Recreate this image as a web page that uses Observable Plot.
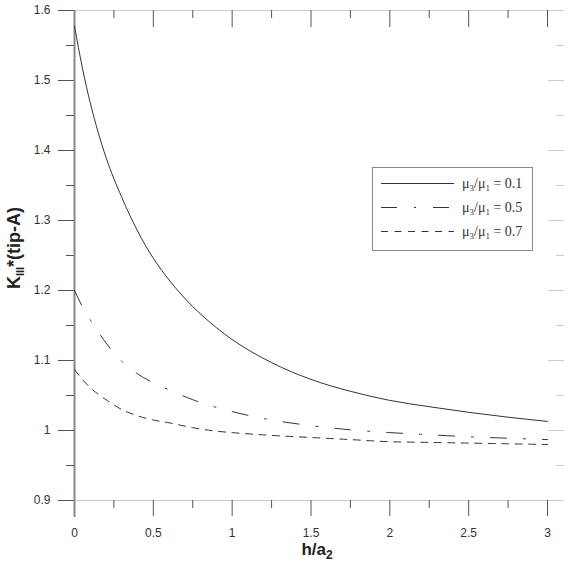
<!DOCTYPE html>
<html><head><meta charset="utf-8">
<script src="https://cdn.jsdelivr.net/npm/d3@7"></script>
<script src="https://cdn.jsdelivr.net/npm/@observablehq/plot@0.6"></script>
<style>
body{margin:0;background:#fff;}
#wrap{position:relative;width:570px;height:563px;}
#legend{position:absolute;left:0;top:0;pointer-events:none;}
</style></head><body><div id="wrap"></div>
<script>
// ---- data ----
const hA = [0,0.05,0.1,0.15,0.2,0.3,0.4,0.5,0.6,0.75,0.9,1,1.25,1.5,1.75,2,2.25,2.5,2.75,3];
const k01 = [1.578,1.518,1.468,1.426,1.390,1.333,1.285,1.246,1.215,1.177,1.147,1.130,1.097,1.073,1.056,1.043,1.034,1.026,1.019,1.013];
const k05 = [1.200,1.177,1.158,1.141,1.125,1.099,1.081,1.068,1.058,1.044,1.033,1.027,1.015,1.007,1.001,0.997,0.994,0.991,0.989,0.987];
const k07 = [1.087,1.073,1.061,1.052,1.044,1.030,1.021,1.015,1.011,1.004,0.999,0.997,0.993,0.990,0.987,0.984,0.983,0.982,0.981,0.980];
const seriesRatio = ["0.1","0.5","0.7"];
const xTicks = [0,0.5,1,1.5,2,2.5,3];
const xMinor = [0.25,0.75,1.25,1.75,2.25,2.75];
const yTicks = [0.9,1,1.1,1.2,1.3,1.4,1.5,1.6];
const yMinor = [0.95,1.05,1.15,1.25,1.35,1.45,1.55];

const dashes = [null, "16,17,2,17", "7,6.5"];
const seriesVals = [k01, k05, k07];
const rows = [];
seriesVals.forEach((vals, s) => hA.forEach((h, i) => rows.push({s, h, k: vals[i]})));

const ink = "#333";
const tickInk = "#555";
const chart = Plot.plot({
  width: 570, height: 563,
  marginLeft: 74, marginRight: 23, marginTop: 10, marginBottom: 63,
  x: {domain: [0, 3]},
  y: {domain: [0.9, 1.6]},
  style: {fontFamily: '"Liberation Sans", Arial, sans-serif', fontSize: "12px", color: ink, background: "#fff"},
  marks: [
    Plot.ruleY([1.6], {stroke: "#ccc", insetRight: -16}),
    Plot.ruleY([0.9], {stroke: "#ccc"}),
    Plot.tickX(xTicks, {x: d => d, stroke: tickInk, insetBottom: 473}),
    Plot.tickX(xMinor, {x: d => d, stroke: tickInk, insetBottom: 482}),
    Plot.axisY(yTicks, {anchor: "right", tickSize: 16, tickFormat: () => "", label: null, stroke: "#ccc"}),
    Plot.axisY(yMinor, {anchor: "right", tickSize: 8, dx: 8, tickFormat: () => "", label: null, stroke: "#ccc"}),
    Plot.axisY(yTicks, {anchor: "left", tickSize: 16, tickPadding: 8, tickFormat: d => String(d), label: null, stroke: tickInk, fill: ink}),
    Plot.axisY(yMinor, {anchor: "left", tickSize: 8, tickFormat: () => "", label: null, stroke: tickInk}),
    Plot.axisX(xTicks, {anchor: "bottom", tickSize: 16, tickPadding: 12, tickFormat: d => String(d), label: null, stroke: tickInk, fill: ink}),
    Plot.axisX(xMinor, {anchor: "bottom", tickSize: 8, tickFormat: () => "", label: null, stroke: tickInk}),
    Plot.ruleX([0], {stroke: "#888", strokeWidth: 2, insetBottom: -17}),
    ...[0,1,2].map(s => Plot.line(rows.filter(r => r.s === s), {
      x: "h", y: "k", curve: "monotone-x", stroke: "#333", strokeWidth: 1,
      strokeDasharray: dashes[s]
    }))
  ]
});
const wrap = document.getElementById("wrap");
wrap.appendChild(chart);

const svg = d3.select(chart);
const sans = '"Liberation Sans", Arial, sans-serif';
// axis titles
const xt = svg.append("text").attr("x", 317).attr("y", 555).attr("text-anchor", "middle")
  .style("font-family", sans).style("font-weight", "bold").style("font-size", "17px").style("fill", "#222");
xt.append("tspan").text("h/a");
xt.append("tspan").attr("dy", 4).style("font-size", "12px").text("2");

const yt = svg.append("text").attr("transform", "translate(20,248) rotate(-90)").attr("text-anchor", "middle")
  .style("font-family", sans).style("font-weight", "bold").style("font-size", "18px").style("fill", "#222");
yt.append("tspan").text("K");
yt.append("tspan").attr("dy", 4).style("font-size", "11px").text("III");
yt.append("tspan").attr("dy", -4).text("*(tip-A)");

// legend (separate overlay svg)
const lg = d3.select(wrap).append("svg").attr("id", "legend").attr("width", 570).attr("height", 563);
lg.append("rect").attr("x", 372.5).attr("y", 167.5).attr("width", 160).attr("height", 83)
  .attr("fill", "#fff").attr("stroke", "#888");
const rowY = [183.5, 207.5, 231.5];
const serif = '"Liberation Serif", "Times New Roman", serif';
seriesRatio.forEach((r, i) => {
  lg.append("line").attr("x1", 381).attr("x2", 454).attr("y1", rowY[i]).attr("y2", rowY[i])
    .attr("stroke", "#333").attr("stroke-dasharray", dashes[i]);
  const t = lg.append("text").attr("x", 462).attr("y", rowY[i] + 4.5)
    .style("font-family", serif).style("font-size", "14px").style("fill", "#333");
  t.append("tspan").text("μ");
  t.append("tspan").attr("dy", 3).style("font-size", "9px").text("3");
  t.append("tspan").attr("dy", -3).text("/μ");
  t.append("tspan").attr("dy", 3).style("font-size", "9px").text("1");
  t.append("tspan").attr("dy", -3).text(" = " + r);
});
</script>
</body></html>
